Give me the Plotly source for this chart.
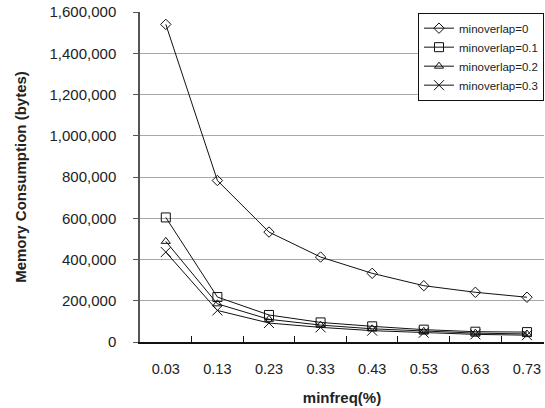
import plotly.graph_objects as go

categories = ["0.03", "0.13", "0.23", "0.33", "0.43", "0.53", "0.63", "0.73"]
s_0 = [1540000, 783000, 533000, 412000, 333000, 273000, 241000, 217000]
s_01 = [604000, 218000, 131000, 95000, 76000, 60000, 50000, 48000]
s_02 = [488000, 185000, 110000, 82000, 64000, 52000, 43000, 39000]
s_03 = [436000, 153000, 92000, 71000, 55000, 45000, 37000, 33000]
names = ["minoverlap=0", "minoverlap=0.1", "minoverlap=0.2", "minoverlap=0.3"]
y_ticks = [0, 200000, 400000, 600000, 800000, 1000000, 1200000, 1400000, 1600000]

symbols = ["diamond-open", "square-open", "triangle-up-open", "x-thin-open"]
sizes = [8, 9, 8, 10]

fig = go.Figure()
for name, vals, sym, sz in zip(names, [s_0, s_01, s_02, s_03], symbols, sizes):
    fig.add_trace(go.Scatter(
        x=categories, y=vals, name=name, mode="lines+markers",
        line=dict(color="#111111", width=1),
        marker=dict(symbol=sym, size=sz, color="#111111",
                    line=dict(color="#111111", width=1)),
    ))

fig.update_layout(
    width=545, height=408,
    margin=dict(l=140, r=1, t=12, b=66, autoexpand=False),
    paper_bgcolor="white", plot_bgcolor="white",
    font=dict(family="Liberation Sans, Arial, sans-serif", size=14, color="#222222"),
    showlegend=True,
    legend=dict(
        x=1, y=0.998, xanchor="right", yanchor="top",
        bgcolor="white", bordercolor="#111111", borderwidth=1,
        font=dict(size=11.5, color="#222222"),
        itemwidth=30, tracegroupgap=0,
    ),
)

fig.update_xaxes(
    type="category", range=[-0.5, 7.33],
    showline=True, linecolor="#111111", linewidth=1.5,
    ticks="inside", tickson="boundaries", ticklen=6, tickcolor="#111111",
    showgrid=False, ticklabelstandoff=13, automargin=False,
    tickfont=dict(size=14.5),
    title=dict(text="<b>minfreq(%)</b>", font=dict(size=15), standoff=16),
)
fig.update_yaxes(
    range=[0, 1600000], tickvals=y_ticks, tickformat=",d",
    showline=True, linecolor="#555555", linewidth=1.5,
    ticks="outside", ticklen=5, tickcolor="#555555",
    showgrid=True, gridcolor="#a8a8a8", gridwidth=1, zeroline=False,
    ticklabelstandoff=14, automargin=False,
    tickfont=dict(size=15),
    title=dict(text="<b>Memory Consumption (bytes)</b>", font=dict(size=15), standoff=19),
)

fig.write_html("out.html", config={"displayModeBar": False},
               post_script="document.body.style.margin='0';")
